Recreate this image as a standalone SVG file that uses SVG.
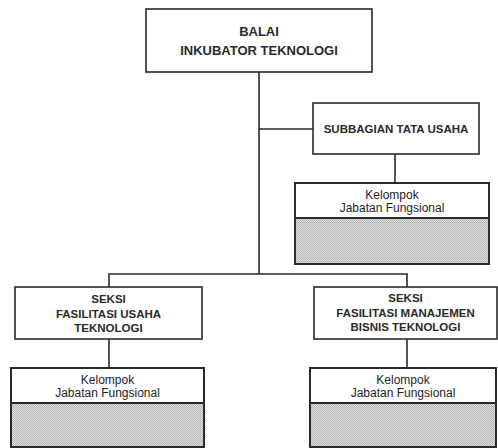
<svg xmlns="http://www.w3.org/2000/svg" width="498" height="448" viewBox="0 0 498 448">
  <defs>
    <pattern id="dots" width="2" height="2" patternUnits="userSpaceOnUse">
      <rect width="2" height="2" fill="#dedede" shape-rendering="crispEdges"/>
      <rect width="1" height="1" fill="#b4b4b4" shape-rendering="crispEdges"/>
      <rect x="1" y="1" width="1" height="1" fill="#b4b4b4" shape-rendering="crispEdges"/>
    </pattern>
    <style>
      .box { fill: #ffffff; stroke: #2a2a2a; stroke-width: 1.6; }
      .kbox { fill: #ffffff; stroke: #2a2a2a; stroke-width: 2; }
      .hatch { fill: url(#dots); stroke: #2a2a2a; stroke-width: 2; }
      .conn { fill: none; stroke: #2a2a2a; stroke-width: 1.6; }
      .h { font-family: "Liberation Sans", Arial, sans-serif; font-weight: bold; fill: #2a2a2a; text-anchor: middle; }
      .k { font-family: "Liberation Sans", Arial, sans-serif; font-size: 12px; fill: #1e1e1e; text-anchor: middle; }
    </style>
  </defs>
  <rect width="498" height="448" fill="#ffffff"/>

  <g id="connectors">
    <path class="conn" d="M259 72 V274"/>
    <path class="conn" d="M259 129 H313"/>
    <path class="conn" d="M395 154 V183"/>
    <path class="conn" d="M109 287 V274 H407 V287"/>
    <path class="conn" d="M109 339 V368"/>
    <path class="conn" d="M407 339 V368"/>
  </g>

  <g id="balai">
    <rect class="box" x="146" y="9" width="226" height="63"/>
    <text class="h" x="259" y="36" font-size="13">BALAI</text>
    <text class="h" x="259" y="55" font-size="13">INKUBATOR TEKNOLOGI</text>
  </g>

  <g id="subbagian">
    <rect class="box" x="313" y="103" width="166" height="51"/>
    <text class="h" x="396" y="133" font-size="11.5">SUBBAGIAN TATA USAHA</text>
  </g>

  <g id="kelompok-subbagian">
    <rect class="hatch" x="295" y="218" width="194" height="46"/>
    <rect class="kbox" x="295" y="183" width="194" height="35"/>
    <text class="k" x="392" y="199">Kelompok</text>
    <text class="k" x="392" y="212">Jabatan Fungsional</text>
  </g>

  <g id="seksi-usaha">
    <rect class="box" x="15" y="287" width="187" height="52"/>
    <text class="h" x="108.5" y="303" font-size="11.5">SEKSI</text>
    <text class="h" x="108.5" y="317.5" font-size="11.5">FASILITASI USAHA</text>
    <text class="h" x="108.5" y="332" font-size="11.5">TEKNOLOGI</text>
  </g>

  <g id="seksi-manajemen">
    <rect class="box" x="314" y="287" width="183" height="52"/>
    <text class="h" x="405.5" y="302" font-size="11.5">SEKSI</text>
    <text class="h" x="405.5" y="316.5" font-size="11.5">FASILITASI MANAJEMEN</text>
    <text class="h" x="405.5" y="331" font-size="11.5">BISNIS TEKNOLOGI</text>
  </g>

  <g id="kelompok-usaha">
    <rect class="hatch" x="11" y="403" width="193" height="44"/>
    <rect class="kbox" x="11" y="368" width="193" height="35"/>
    <text class="k" x="107.5" y="384">Kelompok</text>
    <text class="k" x="107.5" y="397">Jabatan Fungsional</text>
  </g>

  <g id="kelompok-manajemen">
    <rect class="hatch" x="310" y="403" width="186" height="44"/>
    <rect class="kbox" x="310" y="368" width="186" height="35"/>
    <text class="k" x="403" y="384">Kelompok</text>
    <text class="k" x="403" y="397">Jabatan Fungsional</text>
  </g>
</svg>
